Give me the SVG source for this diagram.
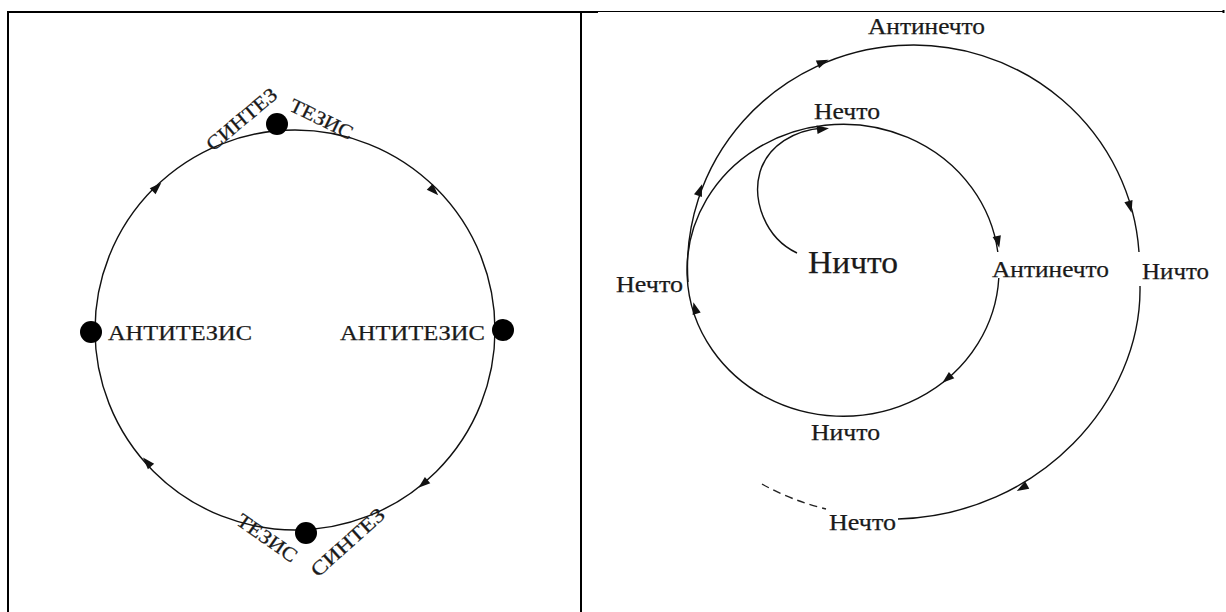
<svg xmlns="http://www.w3.org/2000/svg" xmlns:xlink="http://www.w3.org/1999/xlink" width="1226" height="612" viewBox="0 0 1226 612">
<style>
.frame{stroke:#000;fill:none}
.ln{stroke:#111;stroke-width:1.4;fill:none}
.dash{stroke:#222;stroke-width:1.4;fill:none;stroke-dasharray:8 5}
.dot{fill:#000}
.lbl{font-family:"Liberation Serif","Times New Roman",serif;fill:#1a1a1a;stroke:#1a1a1a;stroke-width:0.25}
.ah{fill:#111}
</style>
<defs>
<path id="ah" d="M6 0 L-6 -4.2 L-6 4.2 Z"/>
</defs>
<g id="frame">
<line class="frame" x1="7" y1="12" x2="598" y2="12" stroke-width="2"/>
<line class="frame" x1="8" y1="11" x2="8" y2="612" stroke-width="2"/>
<line class="frame" x1="581" y1="11" x2="581" y2="612" stroke-width="2"/>
<line class="frame" x1="598" y1="11.5" x2="1224" y2="11.5" stroke-width="1"/>
<line class="frame" x1="1223.5" y1="10" x2="1223.5" y2="13" stroke-width="2"/>
</g>
<g id="connectors">
<circle class="ln" cx="295" cy="330" r="200"/>
<use xlink:href="#ah" class="ah" transform="translate(157,187) rotate(-44)"/>
<use xlink:href="#ah" class="ah" transform="translate(434,191) rotate(45)"/>
<use xlink:href="#ah" class="ah" transform="translate(423,484) rotate(140)"/>
<use xlink:href="#ah" class="ah" transform="translate(147,462) rotate(228)"/>
<path class="ln" d="M998.8 278 A156 146 0 1 1 997.8 252"/>
<path class="ln" d="M797 253 C765 238 752 200 760 172 C768 145 795 130 823 128"/>
<path class="ln" d="M688 282 A226 222 0 0 1 1139 252"/>
<path class="ln" d="M1140 286 C1142 400 1040 515 898 519"/>
<path class="dash" d="M762 484 Q790 500 826 509"/>
<use xlink:href="#ah" class="ah" transform="translate(823,129) rotate(-7)"/>
<use xlink:href="#ah" class="ah" transform="translate(998,242) rotate(78)"/>
<use xlink:href="#ah" class="ah" transform="translate(947,379) rotate(140)"/>
<use xlink:href="#ah" class="ah" transform="translate(695,308) rotate(-106)"/>
<use xlink:href="#ah" class="ah" transform="translate(700,190) rotate(-70)"/>
<use xlink:href="#ah" class="ah" transform="translate(823,62) rotate(-23)"/>
<use xlink:href="#ah" class="ah" transform="translate(1130,207) rotate(75)"/>
<use xlink:href="#ah" class="ah" transform="translate(1022,488) rotate(150)"/>
</g>
<g id="node-top">
<circle class="dot" cx="277" cy="124" r="11"/>
<text class="lbl" font-size="20" textLength="86" lengthAdjust="spacingAndGlyphs" transform="translate(213,152) rotate(-40)">СИНТЕЗ</text>
<text class="lbl" font-size="20" textLength="68" lengthAdjust="spacingAndGlyphs" transform="translate(288,110) rotate(26)">ТЕЗИС</text>
</g>
<g id="node-left">
<circle class="dot" cx="91" cy="332" r="11"/>
<text class="lbl" x="108" y="340" font-size="21" textLength="144" lengthAdjust="spacingAndGlyphs">АНТИТЕЗИС</text>
</g>
<g id="node-right">
<circle class="dot" cx="503" cy="330" r="11"/>
<text class="lbl" x="340" y="340" font-size="21" textLength="145" lengthAdjust="spacingAndGlyphs">АНТИТЕЗИС</text>
</g>
<g id="node-bottom">
<circle class="dot" cx="306" cy="533" r="11"/>
<text class="lbl" font-size="20" textLength="69" lengthAdjust="spacingAndGlyphs" transform="translate(235,523.5) rotate(35)">ТЕЗИС</text>
<text class="lbl" font-size="20" textLength="92" lengthAdjust="spacingAndGlyphs" transform="translate(318,578) rotate(-42)">СИНТЕЗ</text>
</g>
<g id="node-nichto-center">
<text class="lbl" x="808" y="273" font-size="32" textLength="90" lengthAdjust="spacingAndGlyphs">Ничто</text>
</g>
<g id="node-nechto-top">
<text class="lbl" x="814" y="119" font-size="23" textLength="66" lengthAdjust="spacingAndGlyphs">Нечто</text>
</g>
<g id="node-antinechto-inner">
<text class="lbl" x="992" y="277" font-size="23" textLength="117" lengthAdjust="spacingAndGlyphs">Антинечто</text>
</g>
<g id="node-nichto-bottom">
<text class="lbl" x="811" y="440" font-size="23" textLength="69" lengthAdjust="spacingAndGlyphs">Ничто</text>
</g>
<g id="node-nechto-left">
<text class="lbl" x="616" y="292" font-size="23" textLength="67" lengthAdjust="spacingAndGlyphs">Нечто</text>
</g>
<g id="node-antinechto-outer">
<text class="lbl" x="868" y="34" font-size="23" textLength="117" lengthAdjust="spacingAndGlyphs">Антинечто</text>
</g>
<g id="node-nichto-right">
<text class="lbl" x="1142" y="279" font-size="23" textLength="67" lengthAdjust="spacingAndGlyphs">Ничто</text>
</g>
<g id="node-nechto-bottom">
<text class="lbl" x="829" y="530" font-size="23" textLength="67" lengthAdjust="spacingAndGlyphs">Нечто</text>
</g>
</svg>
